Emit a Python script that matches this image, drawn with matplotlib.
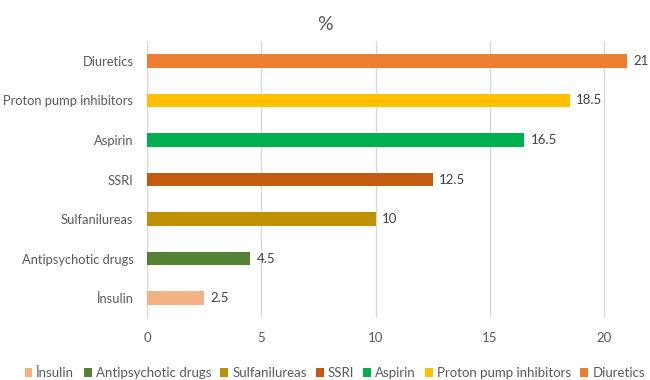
import matplotlib
matplotlib.use("Agg")
import matplotlib.pyplot as plt
from matplotlib.patches import Patch

categories = ["İnsulin", "Antipsychotic drugs", "Sulfanilureas", "SSRI", "Aspirin",
              "Proton pump inhibitors", "Diuretics"]
values = [2.5, 4.5, 10, 12.5, 16.5, 18.5, 21]
value_labels = ["2.5", "4.5", "10", "12.5", "16.5", "18.5", "21"]
colors = ["#F4B183", "#548235", "#BF9000", "#C55A11", "#00B050", "#FFC000", "#ED7D31"]
xticks = [0, 5, 10, 15, 20]
title = "%"

plt.rcParams['font.family'] = ['Lato', 'DejaVu Sans']
txt = "#595959"

fig = plt.figure(figsize=(6.5, 3.8), dpi=100)
ax = fig.add_axes([147.3 / 650, 1 - 318 / 380, (649.6 - 147.3) / 650, (318 - 41) / 380])

y = list(range(len(categories)))
ax.barh(y, values, height=0.34, color=colors, zorder=3)
for yi, v, lab in zip(y, values, value_labels):
    ax.text(v + 0.28, yi, lab, va="center", ha="left", fontsize=9.5, color="#404040", clip_on=False)

ax.set_xlim(0, 22)
ax.set_ylim(-0.5, len(categories) - 0.5)
ax.set_yticks(y)
ax.set_yticklabels(categories, fontsize=9.3, color=txt)
ax.set_xticks(xticks)
ax.set_xticklabels([str(t) for t in xticks], fontsize=9.5, color=txt)
ax.tick_params(axis="both", length=0)
ax.tick_params(axis="y", pad=10)
ax.tick_params(axis="x", pad=10)
ax.grid(axis="x", color="#D9D9D9", linewidth=1, zorder=0)
for s in ["top", "right", "bottom"]:
    ax.spines[s].set_visible(False)
ax.spines["left"].set_color("#D9D9D9")
ax.spines["left"].set_zorder(1)

fig.text(0.5, 1 - 25 / 380, title, ha="center", va="center", fontsize=14, color=txt)

handles = [Patch(facecolor=c, label=l) for c, l in zip(colors, categories)]
fig.legend(handles=handles, loc="center", bbox_to_anchor=(0.515, 1 - 373 / 380), ncol=7,
           frameon=False, fontsize=9.5, labelcolor=txt, handlelength=0.6, handleheight=0.6,
           handletextpad=0.3, columnspacing=0.7)

fig.savefig("out.png", dpi=100)
